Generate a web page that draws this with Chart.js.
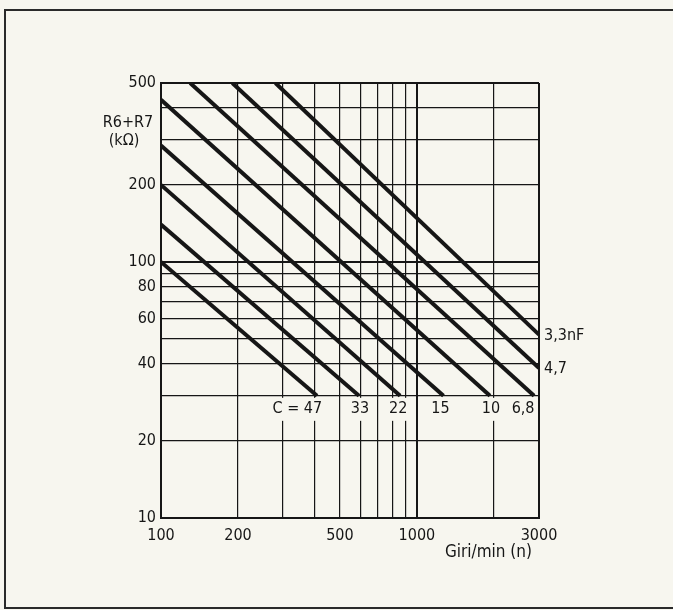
<!DOCTYPE html>
<html>
<head>
<meta charset="utf-8">
<script src="https://cdn.jsdelivr.net/npm/chart.js@4/dist/chart.umd.min.js"></script>
<style>
  html, body { margin: 0; padding: 0; background: #f7f6ef; }
  #wrap { position: relative; width: 673px; height: 610px; overflow: hidden; }
  #frame { position: absolute; left: 4px; top: 9px; width: 720px; height: 600px; border: 2px solid #2a2a2a; box-sizing: border-box; }
  canvas { position: absolute; left: 0; top: 0; }
</style>
</head>
<body>
<div id="wrap">
  <div id="frame"></div>
  <canvas id="chart" width="673" height="610"></canvas>
</div>
<script>
const PAPER = "#f7f6ef";
const INK = "#161616";
const FONT = '"DejaVu Sans Condensed", "DejaVu Sans", sans-serif';

// capacitor value per line (nF), start/end of each line as (giri/min, kOhm)
const CAPS = ["47", "33", "22", "15", "10", "6,8", "4,7", "3,3nF"];
const START_N = [100, 100, 100, 100, 100, 130, 190, 280];
const START_R = [100, 140, 200, 285, 430, 500, 500, 500];
const END_N = [407, 594, 860, 1270, 1930, 2870, 3000, 3000];
const END_R = [30, 30, 30, 30, 30, 30, 38.5, 52];

// axis grid and the ticks that carry a number
const X_GRID = [100, 200, 300, 400, 500, 600, 700, 800, 900, 1000, 2000, 3000];
const X_LABELED = [100, 200, 500, 1000, 3000];
const Y_GRID = [10, 20, 30, 40, 50, 60, 70, 80, 90, 100, 200, 300, 400, 500];
const Y_LABELED = [10, 20, 40, 60, 80, 100, 200, 500];
const X_HEAVY = [100, 1000, 3000];
const Y_HEAVY = [10, 100, 500];

// nudges for the capacitor labels under the 30 kOhm line
const LABEL_SHIFT = [-4, 1, -2, -3, 1, -11];

Chart.defaults.font.family = FONT;
Chart.defaults.font.size = 16;
Chart.defaults.color = INK;
Chart.defaults.animation = false;

const datasets = CAPS.map((c, i) => ({
  label: c,
  data: [{ x: START_N[i], y: START_R[i] }, { x: END_N[i], y: END_R[i] }],
  borderColor: INK,
  borderWidth: 4,
  pointRadius: 0,
  borderCapStyle: "butt",
}));

function gridWidth(heavy) {
  return (c) => (c.tick && heavy.includes(c.tick.value) ? 2 : 1.2);
}

const notes = {
  id: "notes",
  afterDatasetsDraw(chart) {
    const { ctx, chartArea, scales: { x, y } } = chart;
    ctx.save();
    ctx.font = "16px " + FONT;
    ctx.textBaseline = "middle";

    // labels sitting under the 30 kOhm line break the vertical grid
    const y30 = y.getPixelForValue(30);
    const rowY = y30 + 13;
    CAPS.forEach((c, i) => {
      if (END_R[i] !== 30) return;
      const cx = x.getPixelForValue(END_N[i]) + LABEL_SHIFT[i];
      const num = ctx.measureText(c).width;
      const text = i === 0 ? "C = " + c : c;
      const w = ctx.measureText(text).width;
      const right = cx + num / 2;
      ctx.fillStyle = PAPER;
      ctx.fillRect(right - w - 3, y30 + 2, w + 6, 23);
      ctx.fillStyle = INK;
      ctx.textAlign = "right";
      ctx.fillText(text, right, rowY);
    });

    // labels at the right edge
    ctx.textAlign = "left";
    CAPS.forEach((c, i) => {
      if (END_R[i] === 30) return;
      ctx.fillText(c, chartArea.right + 5, y.getPixelForValue(END_R[i]) + 1);
    });

    // axis titles
    ctx.textAlign = "center";
    ctx.fillText("R6+R7", 128, 123);
    ctx.fillText("(kΩ)", 124, 141);
    ctx.font = "17px " + FONT;
    ctx.textAlign = "right";
    ctx.fillText("Giri/min (n)", 532, 553);
    ctx.restore();
  },
};

new Chart(document.getElementById("chart"), {
  type: "line",
  data: { datasets },
  plugins: [notes],
  options: {
    responsive: false,
    layout: { padding: { left: 0, top: 83, right: 134, bottom: 0 } },
    plugins: { legend: { display: false }, tooltip: { enabled: false } },
    scales: {
      x: {
        type: "logarithmic",
        min: 100,
        max: 3000,
        afterBuildTicks: (s) => { s.ticks = X_GRID.map((v) => ({ value: v })); },
        afterFit: (s) => { s.height = 92; },
        grid: { color: INK, lineWidth: gridWidth(X_HEAVY), drawTicks: false },
        border: { color: INK, width: 2 },
        ticks: {
          padding: 8,
          maxRotation: 0,
          autoSkip: false,
          callback: (v) => (X_LABELED.includes(v) ? String(v) : ""),
        },
      },
      y: {
        type: "logarithmic",
        min: 10,
        max: 500,
        afterBuildTicks: (s) => { s.ticks = Y_GRID.map((v) => ({ value: v })); },
        afterFit: (s) => { s.width = 161; },
        grid: { color: INK, lineWidth: gridWidth(Y_HEAVY), drawTicks: false },
        border: { color: INK, width: 2 },
        ticks: {
          padding: 5,
          autoSkip: false,
          callback: (v) => (Y_LABELED.includes(v) ? String(v) : ""),
        },
      },
    },
  },
});
</script>
</body>
</html>
